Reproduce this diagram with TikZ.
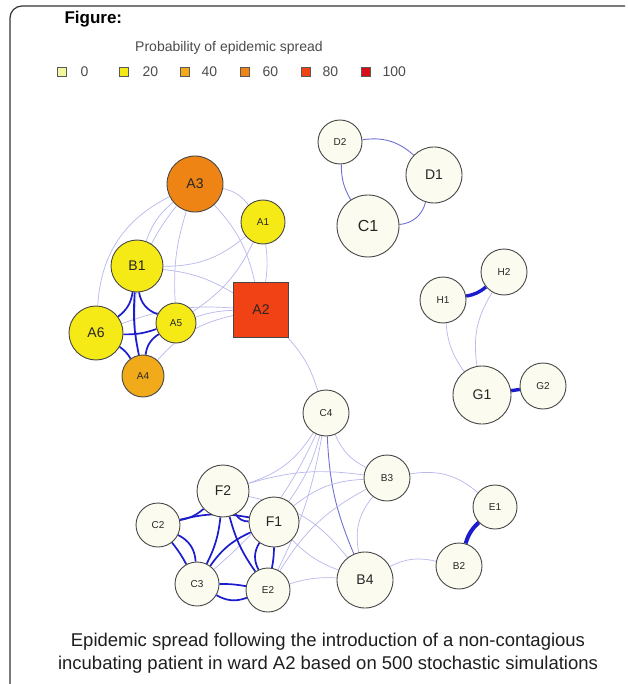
\documentclass[tikz,border=0pt]{standalone}
\usepackage{fontspec}
\setmainfont{Liberation Sans}
\usetikzlibrary{backgrounds}

\definecolor{pzero}{RGB}{251,251,240}
\definecolor{pzerokey}{RGB}{246,246,160}
\definecolor{ptwenty}{RGB}{246,234,22}
\definecolor{pforty}{RGB}{240,170,26}
\definecolor{psixty}{RGB}{238,132,20}
\definecolor{peighty}{RGB}{240,66,20}
\definecolor{phundred}{RGB}{214,14,24}
\definecolor{lightlink}{RGB}{184,184,238}
\definecolor{midlink}{RGB}{112,112,212}
\definecolor{darklink}{RGB}{28,28,206}

\tikzset{
    ward/.style={circle, draw=black!72, line width=0.9pt, inner sep=0pt, text=black!85},
    bigward/.style={ward, font=\fontsize{14}{16}\selectfont},
    smallward/.style={ward, font=\fontsize{10}{12}\selectfont},
    keybox/.style={draw=black!65, line width=0.8pt, minimum size=9pt, inner sep=0pt},
    keylabel/.style={font=\fontsize{14}{16}\selectfont, text=black!70, anchor=west},
    faint link/.style={draw=lightlink, line width=0.7pt},
    mid link/.style={draw=midlink, line width=0.9pt},
    strong link/.style={draw=darklink, line width=1.7pt},
    heavy link/.style={draw=darklink, line width=3.4pt}
}

\begin{document}
\begin{tikzpicture}[x=1pt, y=-1pt]

    \useasboundingbox (0, 0) rectangle (627, 684);

    \draw[black!80, line width=1.2pt, rounded corners=12pt] (10, 684) -- (10, 6) -- (625, 6);

    \node[anchor=base west, font=\bfseries\fontsize{17}{20}\selectfont] (title) at (61, 24) {Figure:};
    \node[font=\fontsize{14}{16}\selectfont, text=black!70] (keytitle) at (229, 48) {Probability of epidemic spread};

    \node[keybox, fill=pzerokey] (k0) at (62, 72) {};
    \node[keybox, fill=ptwenty] (k20) at (124, 72) {};
    \node[keybox, fill=pforty] (k40) at (185, 72) {};
    \node[keybox, fill=psixty] (k60) at (245, 72) {};
    \node[keybox, fill=peighty] (k80) at (306, 72) {};
    \node[keybox, fill=phundred] (k100) at (366, 72) {};
    \node[keylabel] (t0) at (77, 72) {0};
    \node[keylabel] (t20) at (139, 72) {20};
    \node[keylabel] (t40) at (198, 72) {40};
    \node[keylabel] (t60) at (259, 72) {60};
    \node[keylabel] (t80) at (319, 72) {80};
    \node[keylabel] (t100) at (379, 72) {100};

    \node[bigward, fill=psixty, minimum size=56pt] (A3) at (195, 184) {A3};
    \node[smallward, fill=ptwenty, minimum size=44pt] (A1) at (263, 222) {A1};
    \node[bigward, fill=ptwenty, minimum size=52pt] (B1) at (137, 266) {B1};
    \node[bigward, rectangle, fill=peighty, minimum size=55pt] (A2) at (261, 310) {A2};
    \node[bigward, fill=ptwenty, minimum size=54pt] (A6) at (96, 333) {A6};
    \node[smallward, fill=ptwenty, minimum size=40pt] (A5) at (176, 323) {A5};
    \node[smallward, fill=pforty, minimum size=42pt] (A4) at (143, 376) {A4};

    \node[smallward, fill=pzero, minimum size=44pt] (D2) at (340, 142) {D2};
    \node[bigward, fill=pzero, minimum size=56pt] (D1) at (434, 175) {D1};
    \node[bigward, fill=pzero, minimum size=62pt, font=\fontsize{16}{18}\selectfont] (C1) at (368, 226) {C1};

    \node[smallward, fill=pzero, minimum size=46pt] (H2) at (504, 272) {H2};
    \node[smallward, fill=pzero, minimum size=46pt] (H1) at (443, 300) {H1};
    \node[bigward, fill=pzero, minimum size=58pt] (G1) at (482, 395) {G1};
    \node[smallward, fill=pzero, minimum size=46pt] (G2) at (543, 386) {G2};

    \node[smallward, fill=pzero, minimum size=46pt] (C4) at (326, 413) {C4};
    \node[smallward, fill=pzero, minimum size=46pt] (B3) at (387, 478) {B3};
    \node[bigward, fill=pzero, minimum size=52pt] (F2) at (223, 491) {F2};
    \node[bigward, fill=pzero, minimum size=50pt] (F1) at (274, 522) {F1};
    \node[smallward, fill=pzero, minimum size=44pt] (C2) at (158, 525) {C2};
    \node[smallward, fill=pzero, minimum size=44pt] (C3) at (197, 584) {C3};
    \node[smallward, fill=pzero, minimum size=44pt] (E2) at (268, 590) {E2};
    \node[bigward, fill=pzero, minimum size=56pt] (B4) at (365, 580) {B4};
    \node[smallward, fill=pzero, minimum size=44pt] (E1) at (495, 507) {E1};
    \node[smallward, fill=pzero, minimum size=46pt] (B2) at (459, 566) {B2};

    \node[font=\fontsize{18.5}{23}\selectfont, align=center, text=black!88] (caption) at (328, 653)
        {Epidemic spread following the introduction of a non-contagious\\incubating patient in ward A2 based on 500 stochastic simulations};

    \begin{scope}[on background layer]
    \fill[white] (0, 0) rectangle (627, 684);

    \draw[faint link] (A3) to[bend left=20] (A1);
    \draw[faint link] (A3) to[bend right=15] (B1);
    \draw[faint link] (A3) to[bend left=15] (A2);
    \draw[faint link] (A3) to[bend right=10] (A5);
    \draw[faint link] (A3) to[bend right=25] (A4);
    \draw[faint link] (A3) to[bend right=30] (A6);
    \draw[faint link] (A1) to[bend left=20] (B1);
    \draw[faint link] (A1) to[bend left=8] (A2);
    \draw[faint link] (A1) to[bend left=15] (A5);
    \draw[faint link] (B1) to[bend left=12] (A2);
    \draw[faint link] (A6) to[bend left=12] (A2);
    \draw[faint link] (A5) to[bend left=8] (A2);
    \draw[faint link] (A4) to[bend left=18] (A2);
    \draw[faint link] (A2) to[bend left=12] (C4);

    \draw[strong link] (B1) to[bend left=22] (A6);
    \draw[strong link] (B1) to[bend right=30] (A5);
    \draw[strong link] (B1) to[bend right=8] (A4);
    \draw[strong link] (A6) to[bend right=10] (A5);
    \draw[strong link] (A6) to[bend left=12] (A4);
    \draw[strong link] (A5) to[bend right=25] (A4);

    \draw[mid link] (D2) to[bend left=25] (D1);
    \draw[mid link] (D2) to[bend right=15] (C1);
    \draw[mid link] (C1) to[bend right=35] (D1);

    \draw[heavy link] (H1) to[bend right=15] (H2);
    \draw[faint link] (H1) to[bend right=15] (G1);
    \draw[faint link] (H2) to[bend right=20] (G1);
    \draw[heavy link] (G1) -- (G2);

    \draw[heavy link, line width=4pt] (E1) to[bend right=15] (B2);
    \draw[faint link] (B3) to[bend left=25] (E1);
    \draw[faint link] (B4) to[bend left=20] (B2);

    \draw[faint link] (C4) to[bend left=20] (F2);
    \draw[faint link] (C4) to[bend left=10] (F1);
    \draw[faint link] (C4) to[bend left=8] (E2);
    \draw[faint link] (C4) to[bend left=12] (C3);
    \draw[mid link] (C4) to[bend right=10] (B4);
    \draw[faint link] (C4) to[bend right=20] (B3);
    \draw[faint link] (B3) to[bend right=12] (F2);
    \draw[faint link] (B3) to[bend right=18] (F1);
    \draw[faint link] (B3) to[bend right=15] (E2);
    \draw[faint link] (B3) to[bend right=25] (B4);
    \draw[faint link] (F1) to[bend right=12] (B4);
    \draw[faint link] (E2) to[bend left=10] (B4);
    \draw[faint link] (F2) to[bend left=20] (B4);

    \draw[strong link] (C2) to[bend right=15] (F2);
    \draw[strong link] (F2) to[bend right=30] (F1);
    \draw[strong link] (C2) to[bend left=12] (F1);
    \draw[strong link] (C2) to[bend left=30] (C3);
    \draw[strong link] (C2) to[bend left=5] (C3);
    \draw[strong link] (F2) to[bend left=10] (C3);
    \draw[strong link] (F2) to[bend right=10] (E2);
    \draw[strong link] (F1) to[bend right=15] (C3);
    \draw[strong link] (F1) to[bend right=30] (E2);
    \draw[strong link] (F1) to[bend left=5] (E2);
    \draw[strong link] (C3) to[bend left=5] (E2);
    \draw[strong link] (C3) to[bend right=25] (E2);
    \end{scope}

\end{tikzpicture}
\end{document}
